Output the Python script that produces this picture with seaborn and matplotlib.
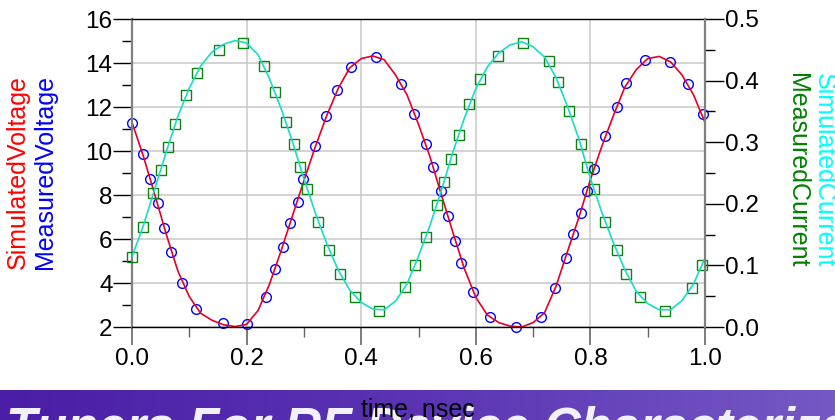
import numpy as np
import seaborn as sns
import matplotlib.pyplot as plt
from matplotlib.colors import LinearSegmentedColormap
from matplotlib.ticker import MultipleLocator, FormatStrFormatter

# simulated traces
sim_time = [0.00, 0.02, 0.04, 0.06, 0.08, 0.10, 0.12, 0.14, 0.16, 0.18,
            0.20, 0.22, 0.24, 0.26, 0.28, 0.30, 0.32, 0.34, 0.36, 0.38,
            0.40, 0.42, 0.44, 0.46, 0.48, 0.50, 0.52, 0.54, 0.56, 0.58,
            0.60, 0.62, 0.64, 0.66, 0.68, 0.70, 0.72, 0.74, 0.76, 0.78,
            0.80, 0.82, 0.84, 0.86, 0.88, 0.90, 0.92, 0.94, 0.96, 0.98, 1.00]
sim_voltage = [11.30, 9.75, 8.00, 6.20, 4.55, 3.38, 2.62, 2.30, 2.10, 2.02,
               2.12, 2.75, 3.95, 5.45, 7.05, 8.65, 10.20, 11.62, 12.85, 13.78,
               14.20, 14.32, 14.15, 13.45, 12.55, 11.21, 9.74, 8.00, 6.30, 4.65,
               3.35, 2.55, 2.20, 2.04, 2.00, 2.20, 2.65, 3.85, 5.43, 6.99,
               8.70, 10.22, 11.60, 12.90, 13.70, 14.20, 14.30, 14.05, 13.45, 12.55, 11.30]
sim_current = [0.114, 0.165, 0.225, 0.285, 0.342, 0.388, 0.424, 0.447, 0.459, 0.465,
               0.461, 0.442, 0.403, 0.355, 0.301, 0.241, 0.185, 0.135, 0.092, 0.060,
               0.040, 0.029, 0.028, 0.042, 0.070, 0.115, 0.165, 0.222, 0.284, 0.339,
               0.387, 0.422, 0.445, 0.458, 0.463, 0.455, 0.438, 0.405, 0.358, 0.305,
               0.241, 0.186, 0.137, 0.093, 0.058, 0.038, 0.028, 0.028, 0.043, 0.070, 0.112]

# measured points
meas_v_time = [0.000, 0.019, 0.032, 0.045, 0.055, 0.068, 0.087, 0.112, 0.158, 0.200,
               0.233, 0.250, 0.263, 0.276, 0.290, 0.299, 0.319, 0.339, 0.357, 0.382,
               0.426, 0.470, 0.493, 0.513, 0.526, 0.539, 0.551, 0.563, 0.575, 0.595,
               0.625, 0.670, 0.713, 0.738, 0.757, 0.769, 0.783, 0.794, 0.806, 0.826,
               0.846, 0.863, 0.895, 0.939, 0.971, 0.996]
meas_voltage = [11.26, 9.85, 8.73, 7.62, 6.49, 5.40, 3.99, 2.82, 2.17, 2.14,
                3.35, 4.64, 5.65, 6.71, 7.70, 8.73, 10.23, 11.59, 12.77, 13.83,
                14.29, 13.05, 11.67, 10.32, 9.29, 8.20, 7.05, 5.91, 4.90, 3.60,
                2.47, 2.01, 2.47, 3.76, 5.15, 6.21, 7.20, 8.20, 9.18, 10.68,
                11.99, 13.10, 14.14, 14.06, 13.05, 11.67]
meas_i_time = [0.000, 0.019, 0.037, 0.050, 0.062, 0.075, 0.094, 0.113, 0.151, 0.193,
               0.231, 0.250, 0.269, 0.282, 0.294, 0.306, 0.325, 0.344, 0.363, 0.389,
               0.431, 0.476, 0.494, 0.513, 0.532, 0.545, 0.556, 0.570, 0.589, 0.607,
               0.638, 0.682, 0.727, 0.744, 0.763, 0.783, 0.794, 0.806, 0.826, 0.846,
               0.863, 0.887, 0.931, 0.977, 0.994]
meas_current = [0.114, 0.162, 0.217, 0.255, 0.292, 0.329, 0.377, 0.413, 0.450, 0.461,
                0.423, 0.381, 0.332, 0.297, 0.259, 0.224, 0.171, 0.125, 0.086, 0.049,
                0.026, 0.065, 0.101, 0.146, 0.198, 0.236, 0.273, 0.311, 0.362, 0.403,
                0.440, 0.461, 0.432, 0.397, 0.350, 0.297, 0.259, 0.224, 0.171, 0.125,
                0.086, 0.049, 0.026, 0.064, 0.101]

sns.set_theme(style="white")
plt.rcParams["font.family"] = ["Liberation Sans", "DejaVu Sans"]

W, H = 835, 420
fig = plt.figure(figsize=(W / 100, H / 100), dpi=100)

# purple banner at the bottom
banner = fig.add_axes([0, 0, 1, 30 / H], zorder=0)
cmap = LinearSegmentedColormap.from_list("banner", ["#4a1ea6", "#5a34b4", "#7558c4"])
banner.imshow(np.linspace(0, 1, 256)[None, :], aspect="auto", cmap=cmap, extent=[0, 1, 0, 1])
banner.set_axis_off()
fig.text(6 / W, 1 - 406 / H, "Tuners For RF Device Characterization", color="#f2f0fa",
         fontsize=36.5, fontweight="bold", fontstyle="italic", ha="left", va="top", zorder=3)

ax = fig.add_axes([132 / W, 1 - 327 / H, 573 / W, 308 / H], zorder=2)
ax2 = ax.twinx()

sns.lineplot(x=meas_v_time, y=meas_voltage, ax=ax, sort=False, linestyle="", marker="o",
             markersize=7, markerfacecolor="none", markeredgecolor="blue",
             markeredgewidth=1, clip_on=False)
sns.lineplot(x=sim_time, y=sim_voltage, ax=ax, sort=False, color="#e4002b", linewidth=1.2)

sns.lineplot(x=meas_i_time, y=meas_current, ax=ax2, sort=False, linestyle="", marker="s",
             markersize=7.5, markerfacecolor="none", markeredgecolor="#108010",
             markeredgewidth=1, clip_on=False)
sns.lineplot(x=sim_time, y=sim_current, ax=ax2, sort=False, color="#18dcc8", linewidth=1.2)

ax.set_xlim(0, 1)
ax.set_ylim(2, 16)
ax2.set_ylim(0, 0.5)

ax.xaxis.set_major_locator(MultipleLocator(0.2))
ax.xaxis.set_minor_locator(MultipleLocator(0.1))
ax.xaxis.set_major_formatter(FormatStrFormatter("%.1f"))
ax.yaxis.set_major_locator(MultipleLocator(2))
ax.yaxis.set_minor_locator(MultipleLocator(1))
ax2.yaxis.set_major_locator(MultipleLocator(0.1))
ax2.yaxis.set_minor_locator(MultipleLocator(0.05))
ax2.yaxis.set_major_formatter(FormatStrFormatter("%.1f"))

ax.grid(True, which="major", color="#c8c8c8", linewidth=1.1)
ax.set_axisbelow(True)
ax2.grid(False)

ax.tick_params(axis="y", which="major", left=True, length=13.5, width=1, color="black",
               pad=0.5, labelsize=17.5, labelcolor="black")
ax.tick_params(axis="y", which="minor", left=True, length=7, width=1, color="black")
ax.tick_params(axis="x", which="major", bottom=True, length=13, width=1.2, color="#666666",
               pad=2, labelsize=17.5, labelcolor="black")
ax.tick_params(axis="x", which="minor", bottom=True, length=7, width=1, color="#666666")
ax2.tick_params(axis="y", which="major", right=True, length=13.5, width=1, color="black",
                pad=1, labelsize=17.5, labelcolor="black")
ax2.tick_params(axis="y", which="minor", right=True, length=7, width=1, color="black")

for a in (ax, ax2):
    a.set_xlabel("")
    a.set_ylabel("")
    a.patch.set_visible(False)
for side in ("top", "bottom"):
    ax.spines[side].set_color("black")
    ax.spines[side].set_linewidth(1)
ax.spines["left"].set_color("#808080")
ax.spines["left"].set_linewidth(1.6)
ax.spines["right"].set_visible(False)
for side in ("top", "bottom", "left"):
    ax2.spines[side].set_visible(False)
ax2.spines["right"].set_color("#808080")
ax2.spines["right"].set_linewidth(1.6)

# axis titles
fig.text(18 / W, 1 - 172 / H, "SimulatedVoltage", rotation=90, color="red",
         fontsize=18, ha="center", va="center")
fig.text(45 / W, 1 - 172 / H, "MeasuredVoltage", rotation=90, color="blue",
         fontsize=18, ha="center", va="center")
fig.text(797 / W, 1 - 170 / H, "MeasuredCurrent", rotation=270, color="#008000",
         fontsize=18, ha="center", va="center")
fig.text(824 / W, 1 - 170 / H, "SimulatedCurrent", rotation=270, color="#00ffff",
         fontsize=18, ha="center", va="center")
fig.text(418 / W, 1 - 417 / H, "time, nsec", color="black", fontsize=18,
         ha="center", va="baseline", zorder=5)

fig.savefig("out.png", dpi=100)
